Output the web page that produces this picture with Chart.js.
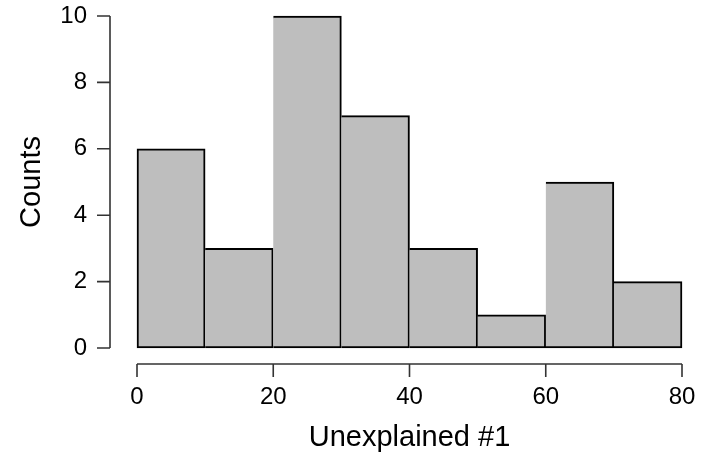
<!DOCTYPE html>
<html>
<head>
<meta charset="utf-8">
<script src="https://cdn.jsdelivr.net/npm/chart.js@4/dist/chart.umd.min.js"></script>
<style>
  html, body { margin: 0; padding: 0; background: #fff; }
  #wrap { width: 702px; height: 460px; }
</style>
</head>
<body>
<div id="wrap"><canvas id="hist"></canvas></div>
<script>
// histogram bins (midpoints) and counts
const binMids = [5, 15, 25, 35, 45, 55, 65, 75];
const counts = [6, 3, 10, 7, 3, 1, 5, 2];
const xTicks = [0, 20, 40, 60, 80];
const yTicks = [0, 2, 4, 6, 8, 10];

const FONT = '"Liberation Sans", Arial, sans-serif';

// R-style detached axes drawn from the chart scales
const rAxes = {
    id: 'rAxes',
    afterDraw(chart) {
        const { ctx, scales: { x, y } } = chart;
        const axX = chart.chartArea.left - 27;
        const axY = chart.chartArea.bottom + 16;
        ctx.save();
        ctx.strokeStyle = '#333';
        ctx.lineWidth = 1.6;
        ctx.fillStyle = '#000';
        ctx.font = '24px ' + FONT;

        // y axis
        ctx.beginPath();
        ctx.moveTo(axX, y.getPixelForValue(yTicks[0]));
        ctx.lineTo(axX, y.getPixelForValue(yTicks[yTicks.length - 1]));
        yTicks.forEach(v => {
            const py = y.getPixelForValue(v);
            ctx.moveTo(axX, py);
            ctx.lineTo(axX - 13, py);
        });
        ctx.stroke();
        ctx.textAlign = 'right';
        ctx.textBaseline = 'middle';
        yTicks.forEach(v => ctx.fillText(String(v), axX - 23, y.getPixelForValue(v)));

        // x axis
        ctx.beginPath();
        ctx.moveTo(x.getPixelForValue(xTicks[0]), axY);
        ctx.lineTo(x.getPixelForValue(xTicks[xTicks.length - 1]), axY);
        xTicks.forEach(v => {
            const px = x.getPixelForValue(v);
            ctx.moveTo(px, axY);
            ctx.lineTo(px, axY + 13);
        });
        ctx.stroke();
        ctx.textAlign = 'center';
        ctx.textBaseline = 'middle';
        xTicks.forEach(v => ctx.fillText(String(v), x.getPixelForValue(v), axY + 33));

        // axis titles
        ctx.font = '29px ' + FONT;
        ctx.fillText('Unexplained #1', (chart.chartArea.left + chart.chartArea.right) / 2, 438);
        ctx.translate(32, (chart.chartArea.top + chart.chartArea.bottom) / 2);
        ctx.rotate(-Math.PI / 2);
        ctx.fillText('Counts', 0, 0);
        ctx.restore();
    }
};

new Chart(document.getElementById('hist'), {
    type: 'bar',
    data: {
        labels: binMids,
        datasets: [{
            data: binMids.map((m, i) => ({ x: m, y: counts[i] })),
            backgroundColor: '#bebebe',
            borderColor: '#000',
            borderWidth: 2,
            // shared edges drawn once, by the bar on the left
            borderSkipped: c => c.dataIndex === 0 ? false : 'left',
            barPercentage: 1,
            categoryPercentage: 1,
            clip: false
        }]
    },
    options: {
        responsive: true,
        maintainAspectRatio: false,
        animation: false,
        layout: { padding: { left: 137, right: 20, top: 16, bottom: 112 } },
        plugins: { legend: { display: false }, tooltip: { enabled: false } },
        scales: {
            x: { type: 'linear', min: 0, max: 80, offset: false, display: false },
            y: { min: 0, max: 10, display: false }
        }
    },
    plugins: [rAxes]
});
</script>
</body>
</html>
